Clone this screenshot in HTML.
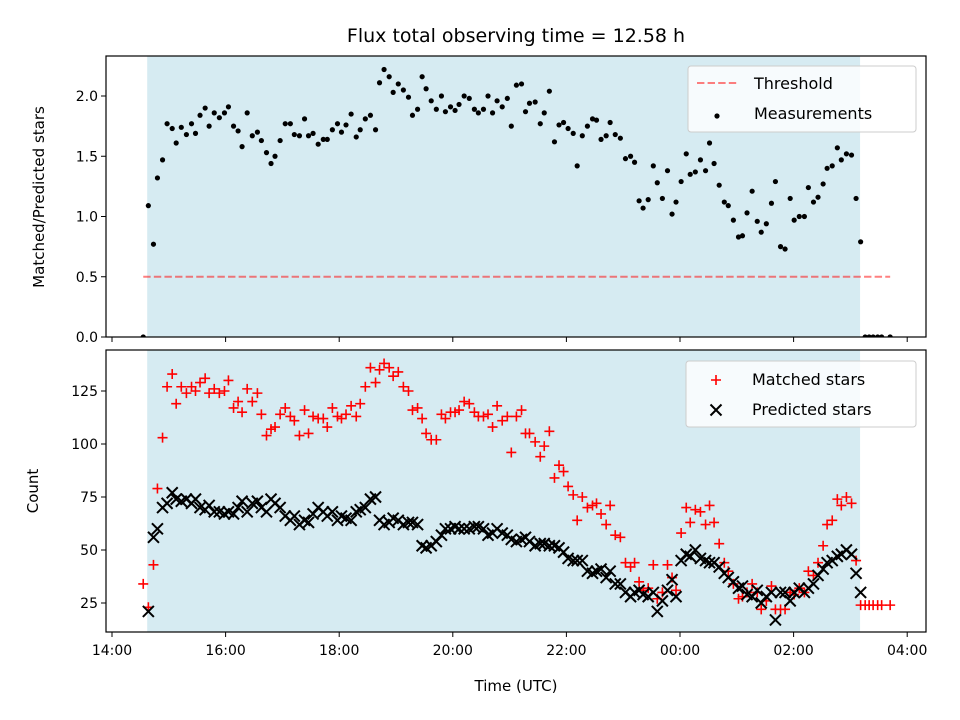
<!DOCTYPE html>
<html><head><meta charset="utf-8"><style>
html,body{margin:0;padding:0;background:#fff;}
svg{display:block;font-family:"DejaVu Sans","Liberation Sans",sans-serif;}
</style></head><body>
<svg id="chart" width="960" height="720" viewBox="0 0 960 720" xmlns="http://www.w3.org/2000/svg"></svg>
<script>
const times = [0.55,0.64,0.73,0.80,0.89,0.97,1.06,1.13,1.22,1.31,1.40,1.47,1.55,1.64,1.71,1.80,1.89,1.98,2.05,2.14,2.22,2.29,2.38,2.47,2.56,2.63,2.72,2.80,2.87,2.96,3.05,3.14,3.21,3.30,3.39,3.46,3.54,3.63,3.72,3.79,3.88,3.97,4.04,4.12,4.21,4.30,4.37,4.46,4.55,4.64,4.71,4.79,4.88,4.95,5.04,5.13,5.22,5.29,5.38,5.46,5.53,5.62,5.71,5.80,5.87,5.96,6.04,6.11,6.20,6.29,6.38,6.45,6.54,6.62,6.70,6.78,6.87,6.96,7.03,7.12,7.21,7.28,7.35,7.45,7.54,7.61,7.70,7.79,7.87,7.95,8.03,8.12,8.19,8.28,8.37,8.46,8.53,8.61,8.70,8.77,8.86,8.95,9.04,9.13,9.20,9.28,9.35,9.44,9.53,9.60,9.69,9.78,9.86,9.93,10.02,10.11,10.18,10.27,10.36,10.45,10.52,10.60,10.69,10.78,10.85,10.94,11.03,11.10,11.18,11.27,11.36,11.43,11.52,11.61,11.68,11.77,11.85,11.94,12.01,12.10,12.19,12.26,12.35,12.43,12.52,12.59,12.68,12.77,12.84,12.93,13.02,13.10,13.18,13.26,13.33,13.40,13.48,13.55,13.70];
const ratio = [0,1.09,0.77,1.32,1.47,1.77,1.73,1.61,1.74,1.68,1.77,1.69,1.84,1.90,1.75,1.86,1.82,1.86,1.91,1.75,1.71,1.58,1.86,1.67,1.70,1.63,1.53,1.44,1.50,1.63,1.77,1.77,1.68,1.67,1.81,1.67,1.69,1.60,1.64,1.64,1.72,1.77,1.70,1.76,1.85,1.66,1.72,1.81,1.84,1.72,2.11,2.22,2.16,2.03,2.10,2.05,1.99,1.84,1.89,2.16,2.06,1.96,1.89,2.00,1.87,1.91,1.88,1.93,2.00,1.98,1.89,1.86,1.89,2.00,1.86,1.96,1.91,1.98,1.75,2.09,2.10,1.87,1.94,1.95,1.77,1.86,2.04,1.62,1.76,1.78,1.73,1.69,1.42,1.67,1.75,1.81,1.80,1.64,1.67,1.78,1.68,1.65,1.48,1.50,1.45,1.13,1.07,1.14,1.42,1.28,1.15,1.38,1.02,1.12,1.29,1.52,1.35,1.37,1.47,1.38,1.61,1.44,1.26,1.12,1.09,0.97,0.83,0.84,1.03,1.21,0.96,0.87,0.94,1.11,1.29,0.75,0.73,1.15,0.97,1.00,1.00,1.24,1.12,1.16,1.27,1.40,1.42,1.57,1.47,1.52,1.51,1.15,0.79,0,0,0,0,0,0];
const matched = [34,23,43,79,103,127,133,119,127,124,127,125,129,131,124,126,124,125,130,117,120,115,126,120,124,114,104,107,108,114,117,113,111,104,116,105,113,112,112,108,117,113,112,114,118,113,119,127,136,129,135,138,136,132,134,127,125,116,117,112,105,102,102,114,112,115,115,116,120,119,115,113,113,114,108,118,111,113,96,113,116,105,105,101,94,99,106,84,90,87,80,76,64,75,70,71,72,67,62,71,57,56,44,42,44,35,31,32,43,27,30,43,37,31,58,70,63,69,68,62,71,63,53,44,40,34,27,28,30,34,30,22,26,33,22,22,22,30,29,32,30,40,38,44,52,62,64,74,71,75,72,45,24,24,24,24,24,24,24];
const predicted = [0,21,56,60,70,72,77,74,73,74,72,74,70,69,71,68,68,67,68,67,70,73,68,72,73,70,68,74,72,70,66,64,66,62,64,63,67,70,68,66,68,64,66,65,64,68,69,70,74,75,64,62,63,65,64,62,63,63,62,52,51,52,54,57,60,60,61,60,60,60,61,61,60,57,58,60,58,57,55,54,55,56,54,52,53,53,52,52,51,49,46,45,45,45,40,39,40,41,37,40,34,34,30,28,30,31,29,28,30,21,26,31,36,28,45,48,47,50,46,45,44,44,42,39,37,35,32,33,29,28,31,25,28,30,17,30,30,26,30,32,30,32,34,38,41,44,45,47,48,50,48,39,30,0,0,0,0,0,0];
const ratioTicks = [0,0.5,1.0,1.5,2.0];
const countTicks = [25,50,75,100,125];
const hourTicks = [0,2,4,6,8,10,12,14];
const hourLabels = ["14:00","16:00","18:00","20:00","22:00","00:00","02:00","04:00"];
const shadeStart = 0.62, shadeEnd = 13.17, threshold = 0.5;

const NS="http://www.w3.org/2000/svg";
const svg=document.getElementById('chart');
function mk(tag,attrs,parent){const e=document.createElementNS(NS,tag);for(const k in attrs)e.setAttribute(k,attrs[k]);(parent||svg).appendChild(e);return e;}
const L=106,R=926,T1=56,B1=337,T2=350,B2=632;
const xs=t=>112+56.8*t;
const y1=v=>337-120.5*v;
const y2=v=>656-2.12*v;

let e=mk('text',{x:516,y:42,'font-size':19,'text-anchor':'middle',fill:'#000'});e.textContent='Flux total observing time = 12.58 h';



function panel(top,bot,name){
  const g=mk('g',{});
  
  
  const cp=mk('clipPath',{id:'c'+name},g);mk('rect',{x:L,y:top,width:R-L,height:bot-top},cp);
  const s=mk('rect',{x:xs(shadeStart),y:top,width:xs(shadeEnd)-xs(shadeStart),height:bot-top,fill:'#add8e6','fill-opacity':0.5},g);
  
  
  const d=mk('g',{'clip-path':'url(#c'+name+')'},g);
  return {g,d};
}
function frame(g,top,bot){mk('rect',{x:L,y:top,width:R-L,height:bot-top,fill:'none',stroke:'#000','stroke-width':1.2},g);}

const p1=panel(T1,B1,'ratio-panel');
const th=mk('line',{x1:xs(times[0]),x2:xs(times[times.length-1]),y1:y1(threshold),y2:y1(threshold),stroke:'#ff0000','stroke-opacity':0.5,'stroke-width':2,'stroke-dasharray':'7.4,3.2'},p1.d);


times.forEach((t,i)=>{const c=mk('circle',{cx:xs(t),cy:y1(ratio[i]),r:2.6,fill:'#000'},p1.d);

});
frame(p1.g,T1,B1);
ratioTicks.forEach(v=>{const y=y1(v);mk('line',{x1:L-5,x2:L,y1:y,y2:y,stroke:'#000','stroke-width':1},p1.g);
const tx=mk('text',{x:L-8,y:y+5,'font-size':14,'text-anchor':'end'},p1.g);tx.textContent=v.toFixed(1);

});
hourTicks.forEach(h=>mk('line',{x1:xs(h),x2:xs(h),y1:B1,y2:B1+5,stroke:'#000','stroke-width':1},p1.g));
e=mk('text',{x:0,y:0,'font-size':15,'text-anchor':'middle',transform:'translate(44,197) rotate(-90)'});e.textContent='Matched/Predicted stars';



const p2=panel(T2,B2,'count-panel');
times.forEach((t,i)=>{const x=xs(t),y=y2(matched[i]);
const m=mk('path',{d:`M${x-5},${y}H${x+5}M${x},${y-5}V${y+5}`,stroke:'#ff0000','stroke-width':1.6},p2.d);

});
times.forEach((t,i)=>{const x=xs(t),y=y2(predicted[i]);
const m=mk('path',{d:`M${x-5.5},${y-5.5}L${x+5.5},${y+5.5}M${x-5.5},${y+5.5}L${x+5.5},${y-5.5}`,stroke:'#000','stroke-width':2},p2.d);

});
frame(p2.g,T2,B2);
countTicks.forEach(v=>{const y=y2(v);mk('line',{x1:L-5,x2:L,y1:y,y2:y,stroke:'#000','stroke-width':1},p2.g);
const tx=mk('text',{x:L-8,y:y+5,'font-size':14,'text-anchor':'end'},p2.g);tx.textContent=v;

});
hourTicks.forEach((h,i)=>{mk('line',{x1:xs(h),x2:xs(h),y1:B2,y2:B2+5,stroke:'#000','stroke-width':1},p2.g);
const tx=mk('text',{x:xs(h),y:B2+23,'font-size':14,'text-anchor':'middle'},p2.g);tx.textContent=hourLabels[i];

});
e=mk('text',{x:0,y:0,'font-size':15,'text-anchor':'middle',transform:'translate(38,491) rotate(-90)'});e.textContent='Count';


e=mk('text',{x:516,y:691,'font-size':15,'text-anchor':'middle'});e.textContent='Time (UTC)';



function legend(x,y,w,h,name){const g=mk('g',{});
mk('rect',{x,y,width:w,height:h,rx:3,fill:'#fff','fill-opacity':0.8,stroke:'#ccc','stroke-width':1},g);return g;}
let lg=legend(688,66,228,66,'ratio-legend');
mk('line',{x1:697,x2:737,y1:83,y2:83,stroke:'#ff0000','stroke-opacity':0.5,'stroke-width':2,'stroke-dasharray':'7.4,3.2'},lg);
e=mk('text',{x:754,y:89,'font-size':16},lg);e.textContent='Threshold';


mk('circle',{cx:717,cy:116,r:2.6,fill:'#000'},lg);
e=mk('text',{x:754,y:119,'font-size':16},lg);e.textContent='Measurements';


lg=legend(686,361,230,66,'count-legend');
mk('path',{d:'M711,380H721M716,375V385',stroke:'#ff0000','stroke-width':1.6},lg);
e=mk('text',{x:752,y:385,'font-size':16},lg);e.textContent='Matched stars';


mk('path',{d:'M710.5,404.5L721.5,415.5M710.5,415.5L721.5,404.5',stroke:'#000','stroke-width':2},lg);
e=mk('text',{x:752,y:415,'font-size':16},lg);e.textContent='Predicted stars';


</script>
</body></html>
